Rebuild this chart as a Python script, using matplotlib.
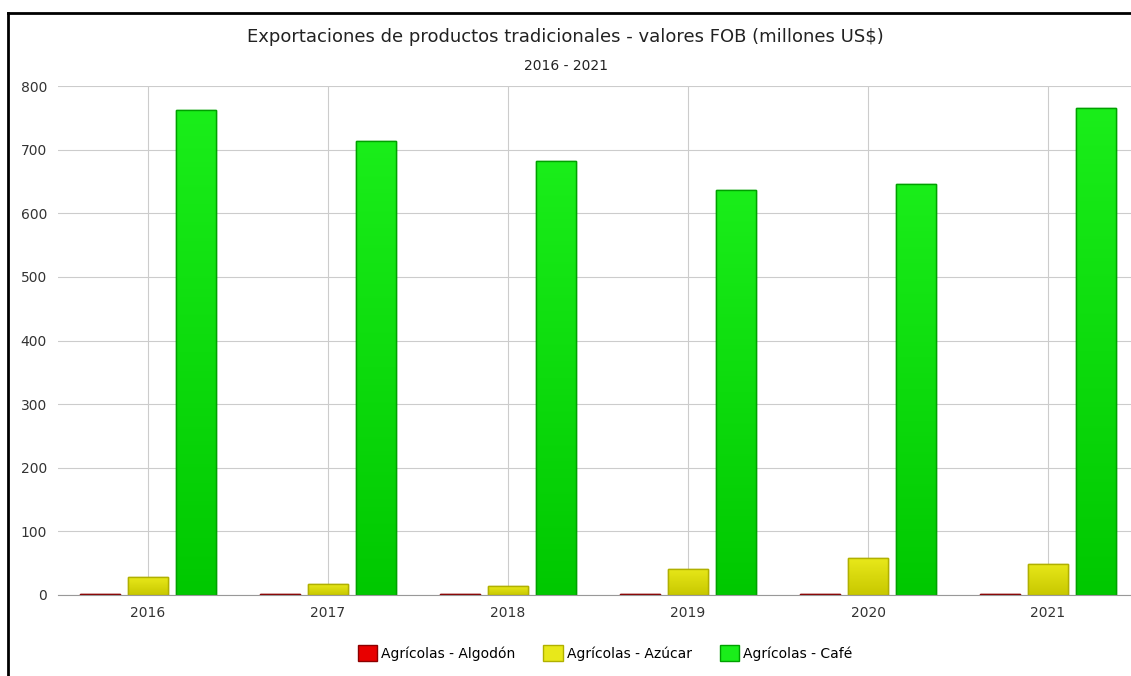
import numpy as np
import matplotlib.pyplot as plt
from matplotlib.lines import Line2D
from matplotlib.patches import Patch
from matplotlib.colors import LinearSegmentedColormap

# Datos (millones US$)
years = ['2016', '2017', '2018', '2019', '2020', '2021']
algodon = [2, 1, 2, 2, 1, 2]
azucar = [28, 17, 14, 41, 58, 49]
cafe = [762, 714, 682, 637, 646, 766]

series = [
    ('Agrícolas - Algodón', algodon, '#e80000', '#b00000', '#8a0000'),
    ('Agrícolas - Azúcar', azucar, '#e8e81a', '#c8c800', '#b0b000'),
    ('Agrícolas - Café', cafe, '#1aee1a', '#00c800', '#00a000'),
]

fig = plt.figure(figsize=(11.31, 6.76), dpi=100)
ax = fig.add_axes([58 / 1131, 81 / 676, 1080 / 1131, 509 / 676])

x = np.arange(len(years))
width = 0.22
offsets = [-0.267, 0.0, 0.267]

grad = np.linspace(1, 0, 256).reshape(-1, 1)
for (name, vals, top, bottom, edge), off in zip(series, offsets):
    bars = ax.bar(x + off, vals, width, color=bottom, edgecolor=edge, linewidth=1, zorder=3)
    # degradado vertical en cada barra
    cmap = LinearSegmentedColormap.from_list(name, [bottom, top])
    for b in bars:
        x0, y0 = b.get_x(), b.get_y()
        w, h = b.get_width(), b.get_height()
        im = ax.imshow(grad, extent=[x0, x0 + w, y0, y0 + h], cmap=cmap,
                       aspect='auto', zorder=3.5, interpolation='bicubic')
        im.set_clip_path(b)
        ax.add_patch(plt.Rectangle((x0, y0), w, h, fill=False, edgecolor=edge,
                                   linewidth=1, zorder=4))

ax.set_xlim(-0.5, 5.5)
ax.set_ylim(0, 800)
ax.set_xticks(x)
ax.set_xticklabels(years)
ax.set_yticks(range(0, 801, 100))
ax.tick_params(length=0, labelsize=10, colors='#333333', pad=8)
ax.grid(True, color='#cccccc', linewidth=0.8, zorder=0)
ax.set_axisbelow(True)
for s in ['top', 'right', 'left']:
    ax.spines[s].set_visible(False)
ax.spines['bottom'].set_color('#999999')
ax.spines['bottom'].set_zorder(5)

fig.text(0.5, 1 - 37 / 676, 'Exportaciones de productos tradicionales - valores FOB (millones US$)',
         ha='center', va='center', fontsize=13, color='#222222')
fig.text(0.5, 1 - 66 / 676, '2016 - 2021', ha='center', va='center', fontsize=10, color='#222222')

handles = [Patch(facecolor=s[2], edgecolor=s[4], label=s[0]) for s in series]
fig.legend(handles=handles, loc='center', bbox_to_anchor=(0.535, 1 - 653 / 676), ncol=3,
           frameon=False, fontsize=10, handlelength=1.4, handleheight=1.4,
           handletextpad=0.3, columnspacing=2.0)

# borde negro superior e izquierdo
fig.add_artist(Line2D([8 / 1131, 1.0], [1 - 13 / 676, 1 - 13 / 676], color='black', linewidth=2))
fig.add_artist(Line2D([8 / 1131, 8 / 1131], [0, 1 - 13 / 676], color='black', linewidth=2))

fig.savefig('out.png', dpi=100)
